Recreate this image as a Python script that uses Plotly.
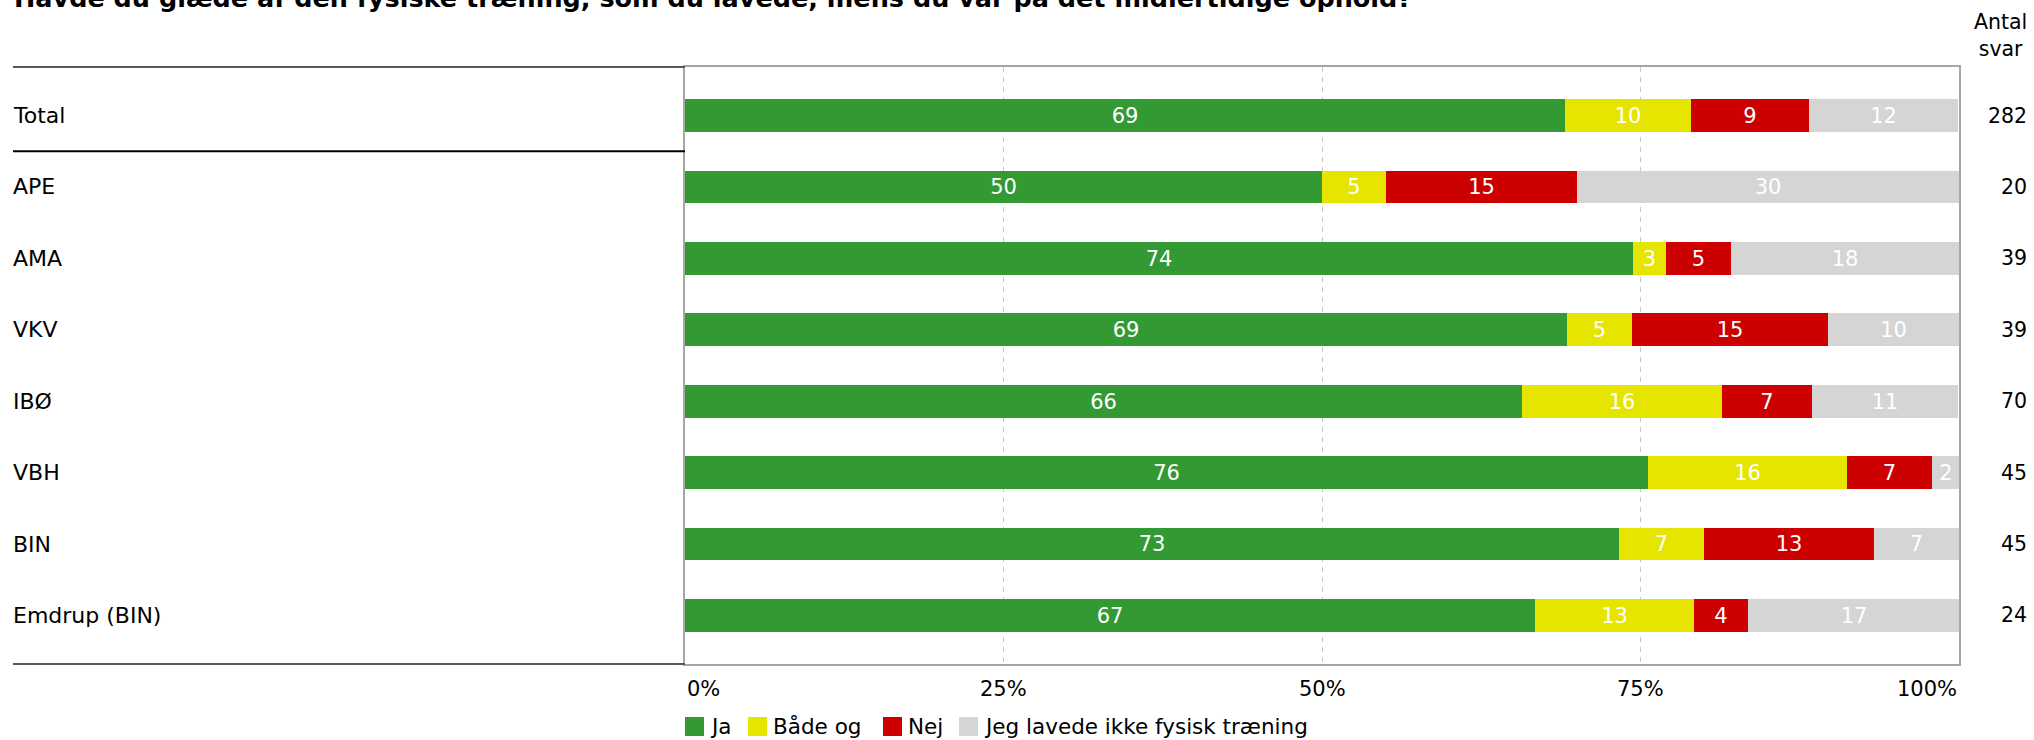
import plotly.graph_objects as go

# ---------------- data ----------------
title = "Havde du glæde af den fysiske træning, som du lavede, mens du var på det midlertidige ophold?"
categories = ["Total", "APE", "AMA", "VKV", "IBØ", "VBH", "BIN", "Emdrup (BIN)"]
series_names = ["Ja", "Både og", "Nej", "Jeg lavede ikke fysisk træning"]
ja = [69.1, 50.0, 74.4, 69.2, 65.7, 75.6, 73.3, 66.7]
baade = [9.9, 5.0, 2.6, 5.1, 15.7, 15.6, 6.7, 12.5]
nej = [9.2, 15.0, 5.1, 15.4, 7.1, 6.7, 13.3, 4.2]
ikke = [11.7, 30.0, 17.9, 10.3, 11.4, 2.2, 6.7, 16.7]
antal = [282, 20, 39, 39, 70, 45, 45, 24]
tick_vals = [0, 25, 50, 75, 100]
tick_labels = ["0%", "25%", "50%", "75%", "100%"]
count_header = "Antal<br>svar"

# ---------------- style ----------------
colors = ["#339933", "#e6e500", "#cc0000", "#d5d5d5"]
FONT = "DejaVu Sans"
W, H = 2034, 740
ML, MR, MT, MB = 685, 75, 67, 76
PW = W - ML - MR
PH = H - MT - MB


def px_x(px):
    return (px - ML) / PW


def px_y(py):
    return (H - MB - py) / PH


fig = go.Figure()
for name, vals, col in zip(series_names, [ja, baade, nej, ikke], colors):
    fig.add_trace(go.Bar(
        y=categories, x=vals, name=name, orientation="h",
        marker=dict(color=col, line=dict(width=0)),
        width=0.46,
        text=[str(int(v + 0.5)) for v in vals],
        textposition="inside", insidetextanchor="middle",
        textangle=0, constraintext="none",
        textfont=dict(color="white", size=21, family=FONT),
        showlegend=False, hoverinfo="skip",
    ))

annotations = []
# category labels on the left
for c in categories:
    annotations.append(dict(x=px_x(11), xref="paper", y=c, yref="y", text=c,
                            xanchor="left", yanchor="middle", showarrow=False,
                            font=dict(size=22, color="#000", family=FONT)))
# counts on the right
for c, n in zip(categories, antal):
    annotations.append(dict(x=px_x(2029), xref="paper", y=c, yref="y", text=str(n),
                            xanchor="right", yanchor="middle", showarrow=False,
                            font=dict(size=20.5, color="#000", family=FONT)))
annotations.append(dict(x=px_x(2029), xref="paper", y=px_y(36), yref="paper",
                        text=count_header, xanchor="right", yanchor="middle",
                        align="center", showarrow=False,
                        font=dict(size=20.5, color="#000", family=FONT)))
# x tick labels
anchors = ["left", "center", "center", "center", "right"]
for v, t, a in zip(tick_vals, tick_labels, anchors):
    annotations.append(dict(x=v, xref="x", y=px_y(689), yref="paper", text=t,
                            xanchor=a, yanchor="middle", showarrow=False,
                            font=dict(size=21, color="#000", family=FONT)))
# title (clipped at top as in reference)
annotations.append(dict(x=px_x(12), xref="paper", y=px_y(-1.5), yref="paper",
                        text="<b>" + title + "</b>", xanchor="left", yanchor="middle",
                        showarrow=False, font=dict(size=25.5, color="#000", family=FONT)))

# manual legend
shapes = []
leg_sq_x = [685, 748, 883, 959]
for name, col, sx in zip(series_names, colors, leg_sq_x):
    shapes.append(dict(type="rect", xref="paper", yref="paper",
                       x0=px_x(sx), x1=px_x(sx + 19), y0=px_y(736), y1=px_y(717),
                       fillcolor=col, line=dict(width=0)))
    annotations.append(dict(x=px_x(sx + 23), xref="paper", y=px_y(726.5), yref="paper",
                            text=name, xanchor="left", yanchor="middle", showarrow=False,
                            font=dict(size=21.5, color="#000", family=FONT)))

# left table lines
shapes.append(dict(type="line", xref="paper", yref="paper", x0=px_x(13), x1=0,
                   y0=1, y1=1, line=dict(color="#595959", width=2)))
shapes.append(dict(type="line", xref="paper", yref="y", x0=px_x(13), x1=0,
                   y0=0.5, y1=0.5, line=dict(color="#000000", width=2)))
shapes.append(dict(type="line", xref="paper", yref="paper", x0=px_x(13), x1=0,
                   y0=0, y1=0, line=dict(color="#595959", width=2)))

fig.update_layout(
    width=W, height=H, autosize=False,
    margin=dict(l=ML, r=MR, t=MT, b=MB, pad=0),
    barmode="stack", bargap=0,
    plot_bgcolor="white", paper_bgcolor="white",
    font=dict(family=FONT, size=20, color="#000"),
    annotations=annotations, shapes=shapes,
    showlegend=False,
    xaxis=dict(range=[0, 100], tickvals=[25, 50, 75], showticklabels=False,
               showgrid=True, gridcolor="#c8c8c8", gridwidth=1, griddash="5px,5px",
               zeroline=False, showline=True, mirror=True, linecolor="#a6a6a6",
               linewidth=2, ticks="", fixedrange=True),
    yaxis=dict(type="category", categoryorder="array", categoryarray=categories,
               range=[7.68, -0.68], showticklabels=False, showgrid=False,
               zeroline=False, showline=True, mirror=True, linecolor="#a6a6a6",
               linewidth=2, ticks="", fixedrange=True),
)

fig.write_html(
    "out.html",
    config={"displayModeBar": False},
    post_script="document.body.style.margin='0';document.body.style.overflow='hidden';",
)
